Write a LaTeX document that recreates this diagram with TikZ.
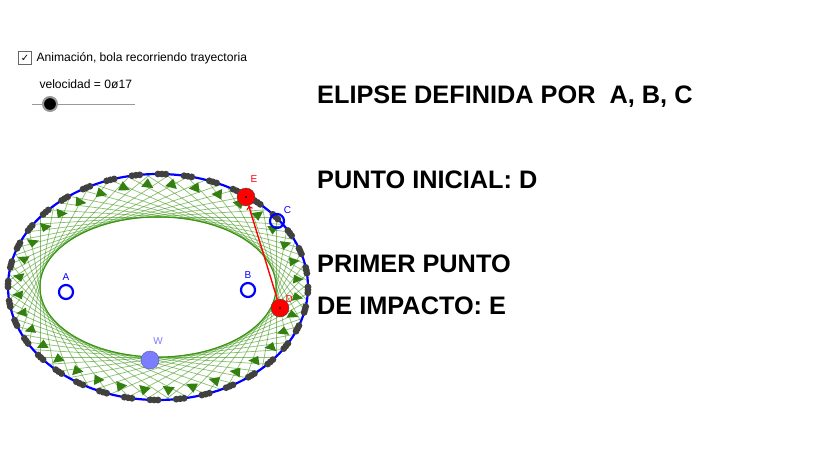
\documentclass[tikz,border=0pt]{standalone}
\usepackage{fontspec}
\setmainfont{Liberation Sans}
\newfontfamily\symfont{DejaVu Sans}
\usetikzlibrary{calc,positioning}
\definecolor{ggblue}{RGB}{0,0,255}
\definecolor{gggreen}{RGB}{60,150,20}
\definecolor{ggred}{RGB}{255,0,0}
\definecolor{ggw}{RGB}{125,125,255}
\begin{document}
\begin{tikzpicture}[x=1pt,y=-1pt,
    title/.style={anchor=west,font=\bfseries\fontsize{25.3}{28}\selectfont,inner sep=0pt},
    ring/.style={circle,draw=ggblue,line width=2.2pt,minimum size=14pt,inner sep=0pt},
    ball/.style={circle,draw=black!70,fill=ggred,minimum size=18pt,inner sep=0pt},
    tag/.style={font=\fontsize{10}{11}\selectfont,inner sep=1pt}]
    \useasboundingbox[fill=white] (0,0) rectangle (835,452);
    % controls
    \node[draw=black!60,minimum size=13pt,inner sep=0pt,font=\symfont\normalsize] (box) at (25,58) {✓};
    \node[anchor=west,font=\fontsize{12.1}{14}\selectfont] (anim) at (33,58) {Animación, bola recorriendo trayectoria};
    \node[anchor=west,font=\fontsize{12.1}{14}\selectfont] (vel) at (36,84) {velocidad = 0ø17};
    \coordinate (s0) at (32,104);
    \coordinate (s1) at (135,104);
    \draw[black!40] (s0) -- (s1);
    \node[circle,fill=black,draw=black!40,line width=2pt,minimum size=14pt,inner sep=0pt] (knob) at (50,104) {};
    % titles
    \node[title] (t1) at (317,97) {ELIPSE DEFINIDA POR\ \ A, B, C};
    \node[title] (t2) at (317,180) {PUNTO INICIAL: D};
    \node[title] (t3) at (317,264) {PRIMER PUNTO};
    \node[title] (t4) at (317,306) {DE IMPACTO: E};
    % trajectory
    \coordinate (O) at (158,287);
    \begin{scope}
        \clip (O) ellipse [x radius=150, y radius=113];
        \foreach \t in {0,6,...,359} {
            \draw[gggreen,opacity=.6,line width=.7pt]
                ({158+118*cos(\t)+3*118*sin(\t)},{287+70*sin(\t)-3*70*cos(\t)}) --
                ({158+118*cos(\t)-3*118*sin(\t)},{287+70*sin(\t)+3*70*cos(\t)});
        }
    \end{scope}
    \draw[gggreen,line width=1pt] (O) ellipse [x radius=118, y radius=70];
    \draw[ggblue,line width=2.2pt] (O) ellipse [x radius=150, y radius=113];
    \foreach \a in {0,10,...,350} {
        \fill[gggreen!85!black] ({158+146*cos(\a+6)},{287+109*sin(\a+6)}) -- ({158+137*cos(\a+3)},{287+101*sin(\a+3)}) -- ({158+135*cos(\a+8)},{287+99*sin(\a+8)}) -- cycle;
        \foreach \d in {0,1.5,3}
            \fill[black!75] ({158+150*cos(\a+\d)},{287+113*sin(\a+\d)}) circle (3.4pt);
    }
    % points
    \node[ring] (A) at (66,292) {};
    \node[ring] (B) at (248,290) {};
    \node[ring] (C) at (277,221) {};
    \node[ball] (E) at (246,197) {};
    \node[ball] (D) at (280,308) {};
    \fill[black] (D.center) circle (1.2pt) (E.center) circle (1.2pt);
    \node[circle,fill=ggw,draw=ggw!70!black,minimum size=18pt,inner sep=0pt] (W) at (150,360) {};
    \draw[->,ggred,line width=1.4pt] (D) -- (E);
    \node[tag,text=ggblue,above=2pt of A] (la) {A};
    \node[tag,text=ggblue,above=2pt of B] (lb) {B};
    \node[tag,text=ggblue,above right=0pt of C] (lc) {C};
    \node[tag,text=ggred,above=4pt of E,xshift=8pt] (le) {E};
    \node[tag,text=ggred,above right=-3pt of D] (ld) {D};
    \node[tag,text=ggw,above=5pt of W,xshift=8pt] (lw) {W};
\end{tikzpicture}
\end{document}
